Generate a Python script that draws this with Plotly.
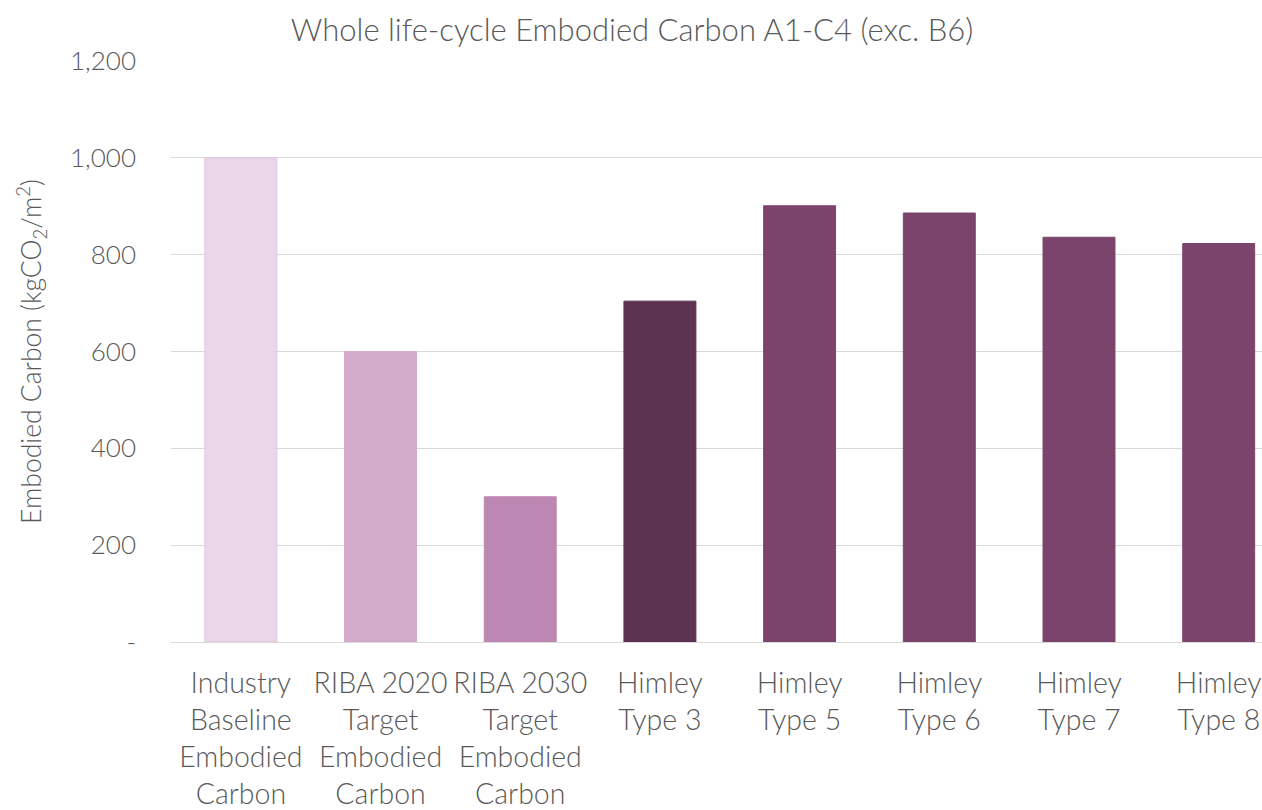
import plotly.graph_objects as go

categories = [
    "Industry<br>Baseline<br>Embodied<br>Carbon",
    "RIBA 2020<br>Target<br>Embodied<br>Carbon",
    "RIBA 2030<br>Target<br>Embodied<br>Carbon",
    "Himley<br>Type 3",
    "Himley<br>Type 5",
    "Himley<br>Type 6",
    "Himley<br>Type 7",
    "Himley<br>Type 8",
]
values = [1000, 600, 300, 704, 901, 886, 836, 823]
colors = ["#EAD6E8", "#D3ABCB", "#BD87B3", "#5C3350",
          "#7B446D", "#7B446D", "#7B446D", "#7B446D"]
line_colors = ["#E0C4DD", "#D3ABCB", "#BD87B3", "#5C3350",
               "#7B446D", "#7B446D", "#7B446D", "#7B446D"]
ytick_vals = [0, 200, 400, 600, 800, 1000, 1200]
ytick_text = ["-", "200", "400", "600", "800", "1,000", "1,200"]

grey = "#595959"
font_family = "Lato, 'Open Sans', sans-serif"

fig = go.Figure(go.Bar(
    x=list(range(len(categories))),
    y=values,
    marker=dict(color=colors, line=dict(color=line_colors, width=1)),
))

fig.update_layout(
    width=1262, height=810,
    margin=dict(l=171, r=0, t=61, b=165),
    paper_bgcolor="white", plot_bgcolor="white",
    bargap=0.485,
    showlegend=False,
    font=dict(family=font_family, color=grey, weight=300),
    title=dict(
        text="Whole life-cycle Embodied Carbon A1-C4 (exc. B6)",
        x=632 / 1262, xref="container", xanchor="center",
        y=1 - 30 / 810, yref="container", yanchor="middle",
        font=dict(size=31, color=grey, family=font_family, weight=300),
    ),
)

fig.update_xaxes(
    tickmode="array",
    tickvals=list(range(len(categories))),
    ticktext=categories,
    range=[-0.5, 7.31],
    showgrid=False,
    showline=False,
    ticks="",
    tickfont=dict(size=28.5, color=grey, weight=300),
    ticklabelstandoff=21,
    zeroline=False,
)

fig.update_yaxes(
    range=[0, 1200],
    tickmode="array",
    tickvals=ytick_vals,
    ticktext=ytick_text,
    showgrid=True, gridcolor="#D9D9D9", gridwidth=1,
    zeroline=True, zerolinecolor="#D9D9D9", zerolinewidth=1,
    tickfont=dict(size=26, color=grey, weight=300),
    ticks="", ticklen=0,
    ticklabelstandoff=34,
    title=dict(
        text="Embodied Carbon (kgCO<sub>2</sub>/m<sup>2</sup>)",
        font=dict(size=26.5, color=grey, weight=300),
        standoff=20,
    ),
)

fig.write_html(
    "out.html",
    config={"displayModeBar": False},
    post_script="document.body.style.margin='0';document.body.style.overflow='hidden';",
)
